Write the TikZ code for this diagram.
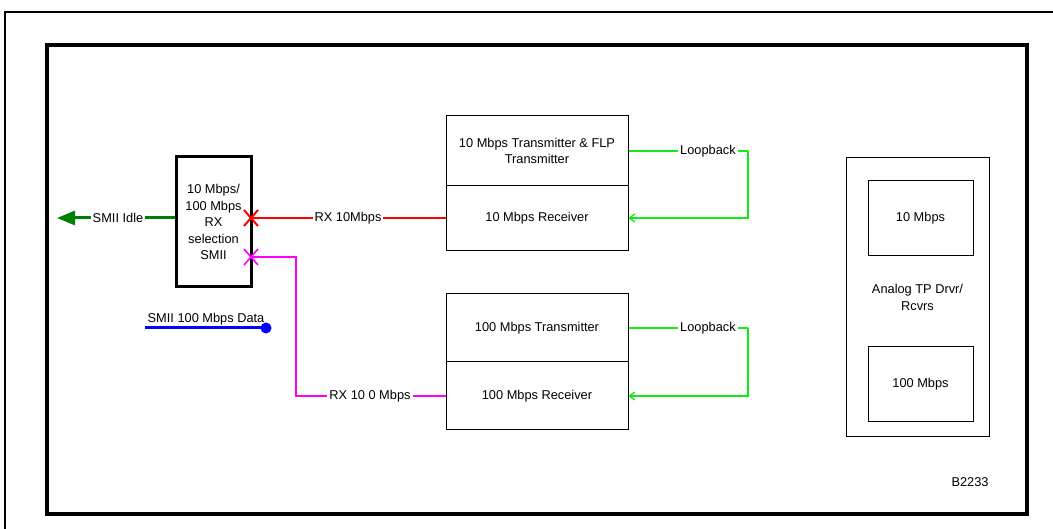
\documentclass[tikz,border=0pt]{standalone}
\usepackage{fontspec}
\setmainfont{Liberation Sans}
\usetikzlibrary{arrows.meta,calc}
\definecolor{idlegreen}{RGB}{0,128,0}
\definecolor{loopgreen}{RGB}{20,235,20}
\definecolor{rxred}{RGB}{255,0,0}
\definecolor{rxmag}{RGB}{255,0,255}
\definecolor{datablue}{RGB}{0,0,255}
\begin{document}
\begin{tikzpicture}[x=1pt,y=-1pt,
  font=\fontsize{12.8}{16.5}\selectfont,
  blk/.style={draw=black,line width=1pt,inner sep=0pt,align=center},
  thickblk/.style={draw=black,line width=3pt,inner sep=0pt,align=center},
  lbl/.style={fill=white,inner sep=2pt,text=black},
  sig/.style={line width=1.4pt},
  loop/.style={draw=loopgreen,line width=1.4pt},
  loopend/.style={loop,-{Straight Barb[length=5pt,width=8pt]}},
  xmark/.style={line width=2pt}]
\useasboundingbox (0,0) rectangle (1053,529);

% page frames
\draw[line width=1.5pt] (5,529) -- (5,12) -- (1053,12);
\draw[line width=3.5pt] (47,45) rectangle (1027,514);

% RX selection block
\node[thickblk,minimum width=75pt,minimum height=130pt] (sel) at (213.5,222)
  {10 Mbps/\\100 Mbps\\RX\\selection\\SMII};

% 10 Mbps transmitter / receiver
\node[blk,minimum width=182pt,minimum height=70pt] (tx10) at (537,151)
  {10 Mbps Transmitter \& FLP\\Transmitter};
\node[blk,minimum width=182pt,minimum height=65pt] (rx10) at (537,218.5)
  {10 Mbps Receiver};

% 100 Mbps transmitter / receiver
\node[blk,minimum width=182pt,minimum height=68pt] (tx100) at (537,328)
  {100 Mbps Transmitter};
\node[blk,minimum width=182pt,minimum height=68pt] (rx100) at (537,396)
  {100 Mbps Receiver};

% analog drivers / receivers
\node[blk,minimum width=143pt,minimum height=279pt] (ana) at (917.5,297.5)
  {Analog TP Drvr/\\Rcvrs};
\node[blk,minimum width=105pt,minimum height=75pt] (a10) at (920.5,218.5) {10 Mbps};
\node[blk,minimum width=105pt,minimum height=75pt] (a100) at (920.5,384.5) {100 Mbps};

\node (tag) at (970,482) {B2233};

% connection points
\coordinate (xr) at (251,218);
\coordinate (xm) at (251,257);
\coordinate (idletip) at (57,218);
\coordinate (magbend) at (296,257);
\coordinate (datastart) at (145,328);
\coordinate (dataend) at (266,328);
\coordinate (lb10) at (748,151);
\coordinate (lb100) at (748,328);

% SMII idle output
\draw[draw=idlegreen,line width=3pt,-{Triangle[length=18pt,width=14pt,fill=idlegreen]}]
  (sel.west |- xr) -- (idletip);
\node[lbl] (idlelbl) at (118,218) {SMII Idle};

% RX 10 Mbps path
\draw[draw=rxred,sig] (xr) -- (rx10.west |- xr);
\node[lbl] (rx10lbl) at (348,218) {RX 10Mbps};
\draw[draw=rxred,xmark] ($(xr)+(-7,-8)$) -- ($(xr)+(7,8)$) ($(xr)+(-7,8)$) -- ($(xr)+(7,-8)$);

% RX 100 Mbps path
\draw[draw=rxmag,sig] (xm) -- (magbend) |- (rx100.west);
\node[lbl] (rx100lbl) at (370,396) {RX 10 0 Mbps};
\draw[draw=rxmag,line width=1.6pt] ($(xm)+(-7,-8)$) -- ($(xm)+(7,8)$) ($(xm)+(-7,8)$) -- ($(xm)+(7,-8)$);

% SMII 100 Mbps data
\draw[draw=datablue,line width=3pt] (datastart) -- (dataend);
\fill[datablue] (dataend) circle (5.5pt);
\node (datalbl) at (206,319.5) {SMII 100 Mbps Data};

% loopbacks
\draw[loop] (tx10.east) -- (lb10);
\node[lbl] (lb10lbl) at (708,151) {Loopback};
\draw[loopend] (lb10) |- (rx10.east |- xr);
\draw[loop] (tx100.east) -- (lb100);
\node[lbl] (lb100lbl) at (708,328) {Loopback};
\draw[loopend] (lb100) |- (rx100.east);
\end{tikzpicture}
\end{document}
